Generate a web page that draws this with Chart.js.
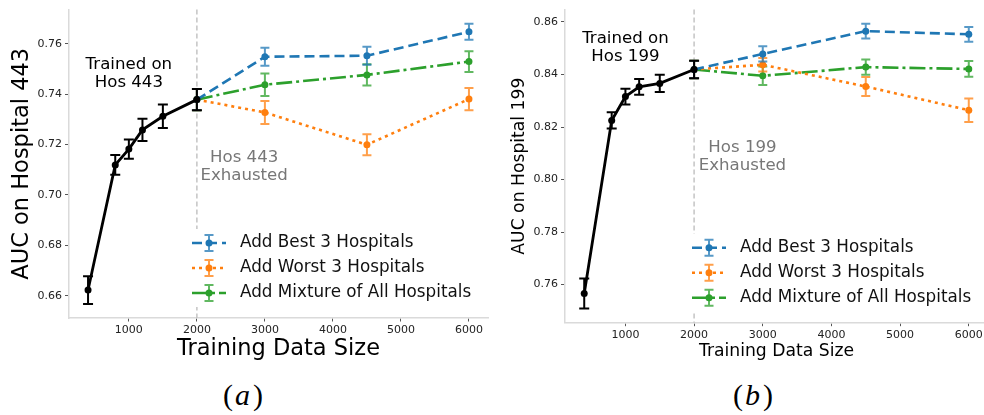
<!DOCTYPE html>
<html>
<head>
<meta charset="utf-8">
<script src="https://cdn.jsdelivr.net/npm/chart.js@4.4.0/dist/chart.umd.min.js"></script>
<style>
    html, body { margin: 0; padding: 0; background: #fff; overflow: hidden; width: 984px; height: 415px; }
    canvas { position: absolute; top: 0; }
    .cap { position: absolute; top: 378px; width: 100px; text-align: center; line-height: 34px;
           font-family: 'Liberation Serif', 'DejaVu Serif', serif; font-size: 30px; color: #000; }
    .cap i { margin: 0 3px 0 2px; }
</style>
</head>
<body>
<canvas id="chartA" width="492" height="370" style="left:0"></canvas>
<canvas id="chartB" width="500" height="370" style="left:492px"></canvas>
<div class="cap" style="left:193px">(<i>a</i>)</div>
<div class="cap" style="left:703px">(<i>b</i>)</div>
<script>
// training sizes
const sizesBase = [400, 800, 1000, 1200, 1500, 2000];
const sizesAdded = [2000, 3000, 4500, 6000];

// (a) Hospital 443
const aucBase443 = [0.6623, 0.7119, 0.7182, 0.7258, 0.7312, 0.7378];
const errBase443 = [0.0055, 0.0039, 0.0038, 0.0044, 0.0047, 0.0042];
const aucBest443 = [0.7378, 0.7548, 0.7552, 0.7647];
const errBest443 = [0.0042, 0.0036, 0.0036, 0.0032];
const aucWorst443 = [0.7378, 0.7327, 0.7199, 0.7380];
const errWorst443 = [0.0042, 0.0046, 0.0042, 0.0044];
const aucMix443 = [0.7378, 0.7437, 0.7476, 0.7529];
const errMix443 = [0.0042, 0.0045, 0.0042, 0.0041];

// (b) Hospital 199
const aucBase199 = [0.7566, 0.8225, 0.8316, 0.8353, 0.8366, 0.8419];
const errBase199 = [0.0057, 0.0031, 0.0030, 0.0030, 0.0033, 0.0033];
const aucBest199 = [0.8419, 0.8478, 0.8565, 0.8553];
const errBest199 = [0.0033, 0.0029, 0.0028, 0.0028];
const aucWorst199 = [0.8419, 0.8437, 0.8354, 0.8264];
const errWorst199 = [0.0033, 0.0026, 0.0036, 0.0045];
const aucMix199 = [0.8419, 0.8395, 0.8428, 0.8421];
const errMix199 = [0.0033, 0.0035, 0.0029, 0.0030];

const seriesLabels = ['Add Best 3 Hospitals', 'Add Worst 3 Hospitals', 'Add Mixture of All Hospitals'];
const xTicks = [1000, 2000, 3000, 4000, 5000, 6000];
const yTicks443 = [0.66, 0.68, 0.70, 0.72, 0.74, 0.76];
const yTicks199 = [0.76, 0.78, 0.80, 0.82, 0.84, 0.86];
const xRange = [120, 6280];
const yRange443 = [0.6512, 0.7735];
const yRange199 = [0.7455, 0.8647];

Chart.defaults.font.family = "'DejaVu Sans', sans-serif";

const styles = [
    { color: '#1f77b4', errColor: 'rgba(31,119,180,0.75)', dash: [10, 5] },
    { color: '#ff7f0e', errColor: 'rgba(255,127,14,0.75)', dash: [3, 4] },
    { color: '#2ca02c', errColor: 'rgba(44,160,44,0.75)', dash: [16, 4, 3, 4] },
];

const toPoints = (xs, ys) => xs.map((x, i) => ({ x: x, y: ys[i] }));

const drawErrorBar = (ctx, x, top, bot, cap) => {
    ctx.beginPath();
    ctx.moveTo(x, top); ctx.lineTo(x, bot);
    ctx.moveTo(x - cap, top); ctx.lineTo(x + cap, top);
    ctx.moveTo(x - cap, bot); ctx.lineTo(x + cap, bot);
    ctx.stroke();
};

const errorBars = {
    id: 'errorBars',
    beforeDatasetDraw(chart, args) {
        const ds = chart.data.datasets[args.index];
        if (!ds.errors) return;
        const ctx = chart.ctx;
        const y = chart.scales.y;
        ctx.save();
        ctx.strokeStyle = ds.errColor;
        ctx.lineWidth = 2;
        args.meta.data.forEach((pt, i) => {
            const v = ds.data[i].y;
            const e = ds.errors[i];
            drawErrorBar(ctx, pt.x, y.getPixelForValue(v + e), y.getPixelForValue(v - e), ds.cap);
        });
        ctx.restore();
    },
};

const extras = {
    id: 'extras',
    beforeDatasetsDraw(chart, args, opts) {
        const { ctx, chartArea } = chart;
        const x = chart.scales.x.getPixelForValue(opts.splitAt);
        ctx.save();
        ctx.strokeStyle = '#c4c4c4';
        ctx.lineWidth = 1.5;
        ctx.setLineDash([5, 3]);
        ctx.beginPath();
        ctx.moveTo(x, chartArea.top);
        ctx.lineTo(x, chartArea.bottom);
        ctx.stroke();
        ctx.restore();
    },
    afterDraw(chart, args, opts) {
        const { ctx, chartArea } = chart;
        const sx = chart.scales.x;
        const sy = chart.scales.y;
        ctx.save();
        // text notes
        opts.notes.forEach((n) => {
            ctx.fillStyle = n.color;
            ctx.font = "16.6px 'DejaVu Sans'";
            ctx.textAlign = 'center';
            ctx.textBaseline = 'middle';
            const cx = sx.getPixelForValue(n.x);
            const cy = sy.getPixelForValue(n.y);
            n.lines.forEach((t, i) => {
                ctx.fillText(t, cx, cy + (i - (n.lines.length - 1) / 2) * 18.3);
            });
        });
        // legend, lower right
        const right = chartArea.right;
        const bottom = chartArea.bottom;
        const rows = [bottom - 75, bottom - 50, bottom - 25];
        ctx.fillStyle = '#fff';
        ctx.fillRect(right - 303, rows[0] - 14, 297, rows[2] - rows[0] + 28);
        const legendSets = chart.data.datasets.filter((d) => d.label);
        legendSets.forEach((d, i) => {
            const ry = rows[i];
            const px = right - 279;
            ctx.strokeStyle = d.errColor;
            ctx.lineWidth = 2;
            ctx.setLineDash([]);
            drawErrorBar(ctx, px, ry - 8, ry + 8, 4.5);
            ctx.strokeStyle = d.borderColor;
            ctx.lineWidth = d.borderWidth;
            ctx.setLineDash(d.borderDash);
            ctx.beginPath();
            ctx.moveTo(right - 296, ry);
            ctx.lineTo(right - 262, ry);
            ctx.stroke();
            ctx.setLineDash([]);
            ctx.fillStyle = d.borderColor;
            ctx.beginPath();
            ctx.arc(px, ry, 3.5, 0, Math.PI * 2);
            ctx.fill();
            ctx.fillStyle = '#111';
            ctx.font = "16.8px 'DejaVu Sans'";
            ctx.textAlign = 'left';
            ctx.textBaseline = 'middle';
            ctx.fillText(d.label, right - 248, ry);
        });
        ctx.restore();
    },
};

const makeChart = (id, cfg) => {
    const datasets = [
        {
            data: toPoints(sizesBase, cfg.base),
            errors: cfg.baseErr,
            errColor: '#000',
            cap: 5,
            borderColor: '#000',
            backgroundColor: '#000',
            borderWidth: 2.8,
            pointRadius: 3.5,
            pointBorderWidth: 0,
        },
    ];
    cfg.added.forEach((vals, i) => {
        datasets.push({
            label: seriesLabels[i],
            data: toPoints(sizesAdded, vals),
            errors: cfg.addedErr[i],
            errColor: styles[i].errColor,
            cap: 4.5,
            borderColor: styles[i].color,
            backgroundColor: styles[i].color,
            borderWidth: 2.6,
            borderDash: styles[i].dash,
            borderCapStyle: 'butt',
            pointRadius: 3.5,
            pointBorderWidth: 0,
        });
    });

    return new Chart(document.getElementById(id), {
        type: 'line',
        data: { datasets: datasets },
        plugins: [errorBars, extras],
        options: {
            responsive: false,
            animation: false,
            layout: { padding: cfg.padding },
            plugins: {
                legend: { display: false },
                tooltip: { enabled: false },
                extras: { splitAt: 2000, notes: cfg.notes },
            },
            scales: {
                x: {
                    type: 'linear',
                    min: xRange[0],
                    max: xRange[1],
                    afterBuildTicks: (s) => { s.ticks = xTicks.map((v) => ({ value: v })); },
                    afterFit: (s) => { s.height = cfg.xAxisHeight; },
                    ticks: { autoSkip: false, maxRotation: 0, font: { size: 11 }, color: '#222', padding: 2,
                             callback: (v) => String(v) },
                    grid: { drawOnChartArea: false, drawTicks: true, tickLength: 3.5, color: '#555' },
                    border: { color: '#dadada', width: 1.5 },
                    title: { display: true, text: 'Training Data Size', color: '#000',
                             font: { size: cfg.titleSize }, padding: { top: 0, bottom: cfg.xTitlePad } },
                },
                y: {
                    type: 'linear',
                    min: cfg.yRange[0],
                    max: cfg.yRange[1],
                    afterBuildTicks: (s) => { s.ticks = cfg.yTicks.map((v) => ({ value: v })); },
                    afterFit: (s) => { s.width = cfg.yAxisWidth; },
                    ticks: { autoSkip: false, font: { size: 11 }, color: '#222', padding: 3,
                             callback: (v) => v.toFixed(2) },
                    grid: { drawOnChartArea: false, drawTicks: true, tickLength: 4, color: '#555' },
                    border: { color: '#dadada', width: 1.5 },
                    title: { display: true, text: cfg.yTitle, color: '#000',
                             font: { size: cfg.titleSize }, padding: { top: cfg.yTitlePad, bottom: 0 } },
                },
            },
        },
    });
};

makeChart('chartA', {
    base: aucBase443,
    baseErr: errBase443,
    added: [aucBest443, aucWorst443, aucMix443],
    addedErr: [errBest443, errWorst443, errMix443],
    yRange: yRange443,
    yTicks: yTicks443,
    yTitle: 'AUC on Hospital 443',
    titleSize: 22.5,
    yTitlePad: 8.5,
    xTitlePad: 7.5,
    yAxisWidth: 69,
    xAxisHeight: 52,
    padding: { left: 0, top: 5, right: 3, bottom: 0 },
    notes: [
        { x: 1000, y: 0.7481, lines: ['Trained on', 'Hos 443'], color: '#000' },
        { x: 2695, y: 0.7112, lines: ['Hos 443', 'Exhausted'], color: '#777' },
    ],
});

makeChart('chartB', {
    base: aucBase199,
    baseErr: errBase199,
    added: [aucBest199, aucWorst199, aucMix199],
    addedErr: [errBest199, errWorst199, errMix199],
    yRange: yRange199,
    yTicks: yTicks199,
    yTitle: 'AUC on Hospital 199',
    titleSize: 17.2,
    yTitlePad: 17.6,
    xTitlePad: 8,
    yAxisWidth: 73,
    xAxisHeight: 47.3,
    padding: { left: 0, top: 7, right: 2.4, bottom: 0 },
    notes: [
        { x: 1000, y: 0.8501, lines: ['Trained on', 'Hos 199'], color: '#000' },
        { x: 2704, y: 0.8088, lines: ['Hos 199', 'Exhausted'], color: '#777' },
    ],
});
</script>
</body>
</html>
